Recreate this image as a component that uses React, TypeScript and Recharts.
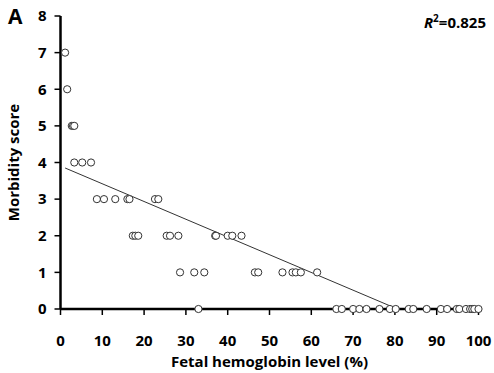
import { ScatterChart, Scatter, XAxis, YAxis, ReferenceLine, Label } from 'recharts';

// fetal HbF level (%) and morbidity score for each patient
const hbf = [
  1.1, 1.6, 2.7, 3.0, 3.3,
  3.3, 5.2, 7.3,
  8.7, 10.4, 13.1, 16.0, 16.5, 22.6, 23.4,
  17.3, 17.9, 18.6, 25.4, 26.2, 28.2, 37.0, 37.2, 40.0, 41.1, 43.3,
  28.6, 32.0, 34.4, 46.5, 47.3, 53.1, 55.5, 56.3, 57.5, 61.4,
  33.0, 66.0, 67.3, 70.0, 71.5, 73.2, 76.3, 78.8, 80.2, 83.3, 84.4, 87.6, 91.0, 92.5, 94.8, 95.4, 97.0, 98.0, 98.5, 99.0, 100,
];
const score = [
  7, 6, 5, 5, 5,
  4, 4, 4,
  3, 3, 3, 3, 3, 3, 3,
  2, 2, 2, 2, 2, 2, 2, 2, 2, 2, 2,
  1, 1, 1, 1, 1, 1, 1, 1, 1, 1,
  0, 0, 0, 0, 0, 0, 0, 0, 0, 0, 0, 0, 0, 0, 0, 0, 0, 0, 0, 0, 0,
];

// linear fit endpoints
const fitX = [1.1, 80.6];
const fitY = [3.85, 0];

const xTicks = [0, 10, 20, 30, 40, 50, 60, 70, 80, 90, 100];
const yTicks = [0, 1, 2, 3, 4, 5, 6, 7, 8];

const points = hbf.map((x, i) => ({ x, y: score[i] }));

const font = "'Open Sans', sans-serif";
const tickStyle = { fontFamily: font, fontSize: 15, fontWeight: 700, fill: '#000' };

export default function App() {
  return (
    <div style={{ position: 'absolute', left: 0, top: 0, width: 494, height: 373, background: '#fff' }}>
      <ScatterChart width={494} height={373} margin={{ top: 16, right: 15.5, left: 0, bottom: 0 }}>
        <XAxis
          type="number"
          dataKey="x"
          domain={[0, 100]}
          ticks={xTicks}
          interval={0}
          height={64}
          axisLine={{ stroke: '#000', strokeWidth: 2.5 }}
          tickLine={{ stroke: '#000', strokeWidth: 1.5 }}
          tickSize={6}
          tickMargin={20}
          tick={tickStyle}
        >
          <Label
            value="Fetal hemoglobin level (%)"
            position="insideBottom"
            offset={6}
            style={{ fontFamily: font, fontSize: 15, fontWeight: 700, fill: '#000' }}
          />
        </XAxis>
        <YAxis
          type="number"
          dataKey="y"
          domain={[0, 8]}
          ticks={yTicks}
          interval={0}
          width={60.5}
          axisLine={{ stroke: '#000', strokeWidth: 2.5 }}
          tickLine={{ stroke: '#000', strokeWidth: 1.5 }}
          tickSize={6}
          tickMargin={8}
          tick={tickStyle}
        >
          <Label
            value="Morbidity score"
            angle={-90}
            position="insideLeft"
            offset={14}
            style={{ textAnchor: 'middle', fontFamily: font, fontSize: 15, fontWeight: 700, fill: '#000' }}
          />
        </YAxis>
        <ReferenceLine
          segment={[{ x: fitX[0], y: fitY[0] }, { x: fitX[1], y: fitY[1] }]}
          stroke="#333"
          strokeWidth={1}
        />
        <Scatter
          data={points}
          isAnimationActive={false}
          shape={(p: any) => <circle cx={p.cx} cy={p.cy} r={3.6} fill="#fff" stroke="#333" strokeWidth={1} />}
        />
      </ScatterChart>
      <div style={{ position: 'absolute', left: 8, top: 2, fontFamily: font, fontSize: 21, fontWeight: 700 }}>A</div>
      <div style={{ position: 'absolute', right: 8, top: 11, fontFamily: font, fontSize: 15, fontWeight: 700 }}>
        <i>R</i><sup style={{ fontSize: 10 }}>2</sup>=0.825
      </div>
    </div>
  );
}
